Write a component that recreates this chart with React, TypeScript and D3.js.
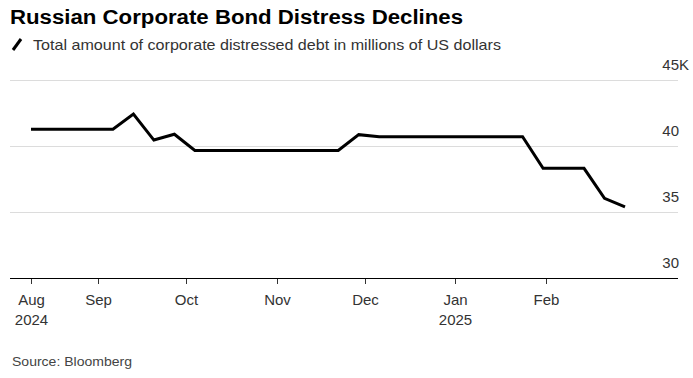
import React from "react";
import * as d3 from "d3";

const startDate = "2024-08-09";
const values = [
  41.27, 41.27, 41.27, 41.27, 41.27, 42.42, 40.45, 40.89, 39.66, 39.66,
  39.66, 39.66, 39.66, 39.66, 39.66, 39.66, 40.86, 40.7, 40.7, 40.7,
  40.7, 40.7, 40.7, 40.7, 40.7, 38.31, 38.31, 38.31, 36.04, 35.38,
];
const yTicks = [30, 35, 40, 45];
const xTickDates = ["2024-08-09", "2024-09-01", "2024-10-01", "2024-11-01", "2024-12-01", "2025-01-01", "2025-02-01"];
const xTickLabels = ["Aug", "Sep", "Oct", "Nov", "Dec", "Jan", "Feb"];
const xTickYears = ["2024", "", "", "", "", "2025", ""];

const W = 693;
const H = 378;
const font = "'Liberation Sans', Arial, sans-serif";

export default function App() {
  const parse = d3.utcParse("%Y-%m-%d");
  const t0 = parse(startDate) as Date;
  const dates = values.map((_, i) => d3.utcDay.offset(t0, i * 7));
  const data = dates.map((d, i) => ({ d, v: values[i] }));

  const x = d3
    .scaleUtc()
    .domain([t0, parse("2025-02-01") as Date])
    .range([31, 546]);
  const y = d3.scaleLinear().domain([30, 45]).range([278, 80]);

  const line = d3
    .line<{ d: Date; v: number }>()
    .x((p) => x(p.d))
    .y((p) => y(p.v));

  const gridLeft = 10;
  const gridRight = 678;

  return (
    <div style={{ position: "absolute", left: 0, top: 0 }}>
      <svg width={W} height={H} style={{ display: "block", background: "#fff" }}>
        <text x={10} y={24} fontFamily={font} fontWeight="bold" fontSize={20} fill="#000" textLength={453} lengthAdjust="spacingAndGlyphs">
          Russian Corporate Bond Distress Declines
        </text>
        <line x1={13} y1={50} x2={21} y2={39} stroke="#000" strokeWidth={3} />
        <text x={33} y={50} fontFamily={font} fontSize={15} fill="#333" textLength={468} lengthAdjust="spacingAndGlyphs">
          Total amount of corporate distressed debt in millions of US dollars
        </text>

        {yTicks.map((t) => (
          <g key={t}>
            {t !== 30 && (
              <line x1={gridLeft} x2={gridRight} y1={Math.round(y(t)) + 0.5} y2={Math.round(y(t)) + 0.5} stroke="#dcdcdc" strokeWidth={1} />
            )}
            <text x={679} y={y(t) - 10} textAnchor="end" fontFamily={font} fontSize={15} fill="#333">
              {t}
            </text>
            {t === 45 && (
              <text x={679} y={y(t) - 10} fontFamily={font} fontSize={15} fill="#333">
                K
              </text>
            )}
          </g>
        ))}

        <path d={line(data) || ""} fill="none" stroke="#000" strokeWidth={3} strokeLinejoin="miter" />

        <line x1={gridLeft} x2={gridRight} y1={278.5} y2={278.5} stroke="#000" strokeWidth={1} />
        {xTickDates.map((s, i) => {
          const xx = Math.round(x(parse(s) as Date)) + 0.5;
          return (
            <g key={s}>
              <line x1={xx} x2={xx} y1={279} y2={284} stroke="#333" strokeWidth={1} />
              <text x={xx} y={305} textAnchor="middle" fontFamily={font} fontSize={15} fill="#333">
                {xTickLabels[i]}
              </text>
              {xTickYears[i] && (
                <text x={xx} y={325} textAnchor="middle" fontFamily={font} fontSize={15} fill="#333">
                  {xTickYears[i]}
                </text>
              )}
            </g>
          );
        })}

        <text x={12} y={366} fontFamily={font} fontSize={13} fill="#444" textLength={120} lengthAdjust="spacingAndGlyphs">
          Source: Bloomberg
        </text>
      </svg>
    </div>
  );
}
